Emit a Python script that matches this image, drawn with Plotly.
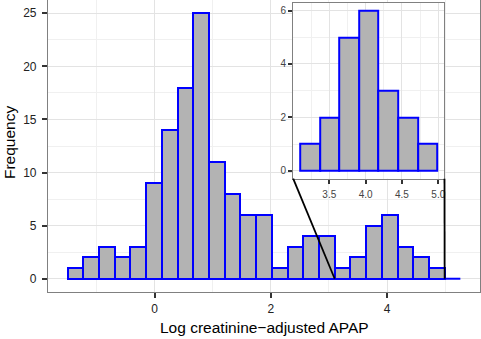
import numpy as np
import plotly.graph_objects as go

# ---------------- data ----------------
bin_start = -1.497
bin_width = 0.2703
counts = [1, 2, 3, 2, 3, 9, 14, 18, 25, 11, 8, 6, 6, 1, 3, 4, 4, 1, 2, 5, 6, 3, 2, 1, 0]
inset_first_bin = 17
inset_last_bin = 23  # inclusive
x_ticks = [0, 2, 4]
y_ticks = [0, 5, 10, 15, 20, 25]
inset_x_ticks = [3.5, 4.0, 4.5, 5.0]
inset_y_ticks = [0, 2, 4, 6]
x_title = "Log creatinine\u2212adjusted APAP"
y_title = "Frequency"

# ---------------- derived ----------------
counts = np.array(counts, dtype=float)
edges = bin_start + bin_width * np.arange(len(counts) + 1)
centers = (edges[:-1] + edges[1:]) / 2


def expand(lo, hi, f=0.05):
    s = hi - lo
    return [lo - f * s, hi + f * s]


xr = expand(edges[0], edges[-1])
yr = expand(0, counts.max())
ins_lo, ins_hi = inset_first_bin, inset_last_bin + 1
ixr = expand(edges[ins_lo], edges[ins_hi])
iyr = expand(0, counts[ins_lo:ins_hi].max())

# inset placement (paper coords)
inset_dx = [0.5676, 0.9178]
inset_dy = [0.388, 0.991]

FILL = "#B3B3B3"
EDGE = "#0000FF"
GRID = "#E3E3E3"
MINOR = "#F0F0F0"
BORDER = "#808080"
TICKC = "#333333"
FONT = "Liberation Sans, Arial, sans-serif"
LW = 2.0

fig = go.Figure()

nz = counts > 0
fig.add_trace(go.Bar(
    x=centers[nz], y=counts[nz], width=bin_width,
    marker=dict(color=FILL, line=dict(color=EDGE, width=LW)),
    xaxis="x", yaxis="y", hoverinfo="skip", showlegend=False))

# empty bins are drawn as a flat outline
zx, zy = [], []
for i in np.where(~nz)[0]:
    zx += [edges[i], edges[i + 1], None]
    zy += [0, 0, None]
fig.add_trace(go.Scatter(x=zx, y=zy, mode="lines", line=dict(color=EDGE, width=LW),
                         xaxis="x", yaxis="y", hoverinfo="skip", showlegend=False))

# inset histogram
fig.add_trace(go.Bar(
    x=centers[ins_lo:ins_hi], y=counts[ins_lo:ins_hi], width=bin_width,
    marker=dict(color=FILL, line=dict(color=EDGE, width=LW)),
    xaxis="x2", yaxis="y2", hoverinfo="skip", showlegend=False))


def px(v):
    return (v - xr[0]) / (xr[1] - xr[0])


def py(v):
    return (v - yr[0]) / (yr[1] - yr[0])


shapes = [
    dict(type="line", xref="paper", yref="paper",
         x0=px(edges[ins_lo]), y0=py(0), x1=inset_dx[0], y1=inset_dy[0],
         line=dict(color="black", width=1.8)),
    dict(type="line", xref="paper", yref="paper",
         x0=px(edges[ins_hi]), y0=py(0), x1=inset_dx[1], y1=inset_dy[0],
         line=dict(color="black", width=1.8)),
]

axis_common = dict(showline=True, linecolor=BORDER, linewidth=1.2, mirror=True,
                   ticks="outside", tickcolor=TICKC, zeroline=False,
                   gridcolor=GRID, gridwidth=1.1)

annotations = [
    dict(text=x_title, x=0.5, y=-(327 - 292) / 292, xref="paper", yref="paper",
         xanchor="center", yanchor="middle", showarrow=False,
         font=dict(size=15.5, color="black", family=FONT)),
    dict(text=y_title, x=(9 - 48) / 432, y=0.51, xref="paper", yref="paper",
         xanchor="center", yanchor="middle", showarrow=False, textangle=-90,
         font=dict(size=15.5, color="black", family=FONT)),
]

fig.update_layout(
    width=481, height=339,
    margin=dict(l=48, r=1, t=0, b=47),
    paper_bgcolor="white", plot_bgcolor="white",
    bargap=0, showlegend=False,
    font=dict(family=FONT),
    xaxis=dict(domain=[0, 1], range=xr, tickvals=x_ticks, ticklen=5, tickwidth=1.5,
               tickfont=dict(size=12, color="#222222"),
               minor=dict(dtick=1, tick0=0, showgrid=True, gridcolor=MINOR, gridwidth=1, ticks=""),
               anchor="y", **axis_common),
    yaxis=dict(domain=[0, 1], range=yr, tickvals=y_ticks, ticklen=5, tickwidth=1.5,
               tickfont=dict(size=12, color="#222222"), ticklabelstandoff=3,
               minor=dict(dtick=2.5, tick0=0, showgrid=True, gridcolor=MINOR, gridwidth=1, ticks=""),
               anchor="x", **axis_common),
    xaxis2=dict(domain=inset_dx, range=ixr, tickvals=inset_x_ticks,
                ticktext=[f"{v:.1f}" for v in inset_x_ticks], ticklen=4, tickwidth=1.5,
                tickfont=dict(size=10, color="#444444"), ticklabelstandoff=2,
                minor=dict(dtick=0.25, tick0=0, showgrid=True, gridcolor=MINOR, gridwidth=1, ticks=""),
                anchor="y2", **axis_common),
    yaxis2=dict(domain=inset_dy, range=iyr, tickvals=inset_y_ticks, ticklen=4, tickwidth=1.5,
                tickfont=dict(size=10, color="#444444"),
                minor=dict(dtick=1, tick0=0, showgrid=True, gridcolor=MINOR, gridwidth=1, ticks=""),
                anchor="x2", **axis_common),
    shapes=shapes,
    annotations=annotations,
)

fig.write_html("out.html", config={"displayModeBar": False},
               post_script="document.body.style.margin='0px';document.body.style.padding='0px';")
